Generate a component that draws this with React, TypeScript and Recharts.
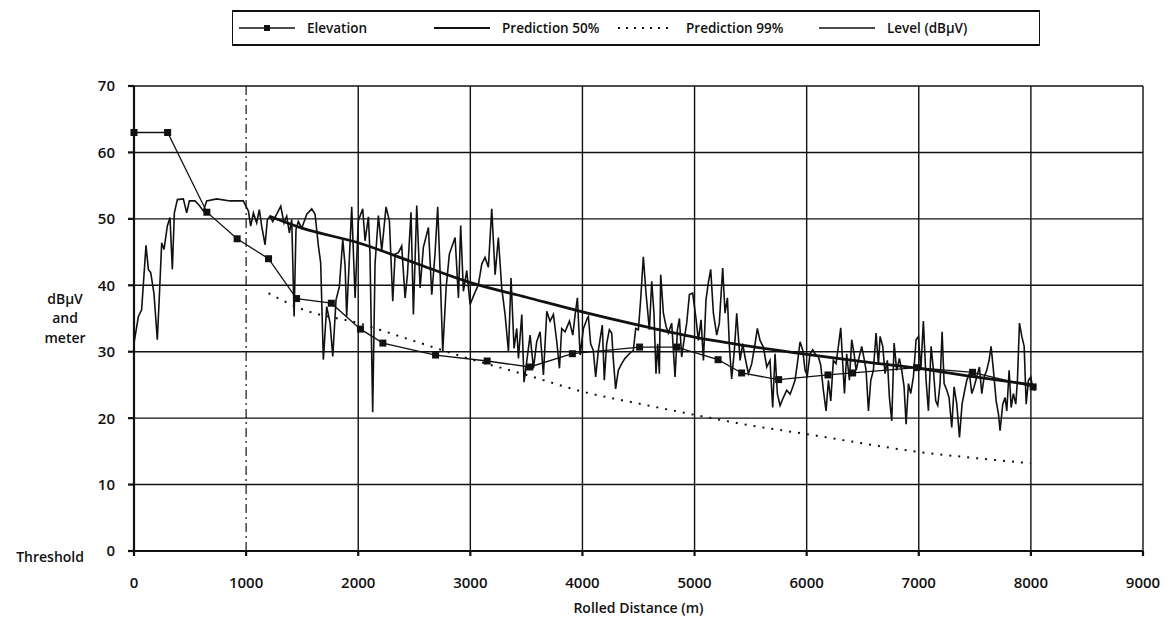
import { CartesianGrid, Legend, Line, LineChart, ReferenceLine, XAxis, YAxis, Label } from 'recharts';

const xTicks = [0, 1000, 2000, 3000, 4000, 5000, 6000, 7000, 8000, 9000];
const yTicks = [0, 10, 20, 30, 40, 50, 60, 70];

// Elevation profile (m), square markers
const elevationDist = [0, 300, 650, 920, 1200, 1450, 1760, 2020, 2220, 2690, 3150, 3530, 3910, 4510, 4840, 5210, 5420, 5750, 6190, 6410, 6980, 7480, 8020];
const elevationM = [63, 63, 51, 47, 44, 38, 37.3, 33.4, 31.3, 29.5, 28.6, 27.7, 29.7, 30.7, 30.7, 28.8, 26.8, 25.8, 26.5, 26.8, 27.6, 26.9, 24.7];

// Predicted field strength (dBuV)
const pred50Dist = [1210, 1500, 2000, 2500, 3000, 3500, 4000, 4500, 5000, 5500, 6000, 6500, 7000, 7500, 8020];
const pred50Db = [50.4, 48.6, 46.4, 43.4, 40.4, 38.2, 36.0, 34.0, 32.2, 30.8, 29.6, 28.5, 27.5, 26.2, 25.0];

const pred99Dist = [1200, 1500, 2000, 2500, 3000, 3500, 4000, 4500, 5000, 5500, 6000, 6500, 7000, 7500, 8000];
const pred99Db = [38.8, 36.4, 34.3, 31.6, 28.9, 26.5, 24.0, 22.2, 20.5, 18.9, 17.6, 16.2, 14.9, 14.0, 13.2];

// Measured level (dBuV)
const levelDist = [
  0, 39, 68, 107, 128, 149, 178, 208, 226, 247, 268, 297, 321, 342, 360, 387, 440, 470, 494, 544,
  574, 619, 648, 738, 857, 975, 1020, 1041, 1065, 1094, 1118, 1139, 1169, 1190, 1213, 1237, 1273, 1309, 1338, 1362,
  1386, 1407, 1428, 1445, 1466, 1496, 1541, 1585, 1615, 1645, 1665, 1689, 1719, 1749, 1773, 1802, 1832, 1862, 1883, 1897,
  1942, 1972, 2001, 2040, 2061, 2091, 2105, 2129, 2150, 2180, 2210, 2248, 2278, 2308, 2329, 2358, 2388, 2418, 2439, 2471,
  2492, 2522, 2552, 2581, 2626, 2656, 2685, 2709, 2730, 2754, 2784, 2813, 2864, 2894, 2914, 2938, 2968, 2998, 3033, 3072,
  3102, 3131, 3161, 3191, 3221, 3250, 3280, 3310, 3340, 3363, 3390, 3414, 3429, 3459, 3479, 3503, 3533, 3563, 3592, 3622,
  3652, 3682, 3711, 3741, 3771, 3795, 3815, 3845, 3884, 3914, 3935, 3955, 3979, 4009, 4045, 4053, 4073, 4097, 4118, 4142,
  4177, 4195, 4216, 4240, 4261, 4276, 4296, 4320, 4350, 4380, 4418, 4454, 4475, 4499, 4519, 4543, 4567, 4597, 4618, 4638,
  4656, 4671, 4686, 4698, 4722, 4746, 4766, 4796, 4826, 4847, 4865, 4885, 4906, 4930, 4954, 4983, 5013, 5034, 5058, 5079,
  5102, 5123, 5144, 5168, 5198, 5221, 5251, 5272, 5293, 5311, 5331, 5355, 5376, 5406, 5430, 5450, 5480, 5510, 5540, 5560,
  5584, 5614, 5644, 5673, 5697, 5718, 5739, 5763, 5792, 5822, 5852, 5876, 5896, 5917, 5941, 5965, 5986, 6006, 6030, 6054,
  6075, 6105, 6125, 6149, 6173, 6194, 6215, 6238, 6262, 6283, 6304, 6322, 6337, 6357, 6381, 6402, 6423, 6441, 6461, 6491,
  6512, 6530, 6551, 6572, 6595, 6619, 6640, 6655, 6679, 6699, 6720, 6738, 6759, 6780, 6803, 6827, 6848, 6869, 6887, 6908,
  6928, 6952, 6976, 6997, 7018, 7041, 7065, 7086, 7110, 7131, 7151, 7169, 7190, 7208, 7226, 7250, 7270, 7294, 7315, 7339,
  7363, 7386, 7410, 7428, 7452, 7473, 7493, 7517, 7541, 7562, 7583, 7606, 7627, 7645, 7666, 7690, 7711, 7725, 7749, 7770,
  7785, 7806, 7824, 7844, 7865, 7880, 7898, 7919, 7940, 7958, 7978, 7999, 8017, 8038,
];
const levelDb = [
  31.3, 35.3, 36.3, 46.0, 42.4, 41.9, 38.8, 31.8, 38.3, 46.4, 45.4, 48.9, 50.2, 42.4, 50.9, 52.9, 53.0, 50.9, 52.7, 52.7,
  52.2, 51.2, 52.7, 53.0, 52.7, 52.7, 51.2, 48.9, 50.9, 49.4, 51.4, 48.9, 46.1, 49.9, 50.4, 49.6, 50.7, 51.9, 49.4, 50.4,
  47.9, 49.9, 35.3, 48.4, 49.6, 48.6, 50.7, 51.5, 50.7, 45.9, 43.4, 28.8, 36.8, 34.3, 29.3, 37.8, 39.8, 46.9, 42.9, 35.3,
  51.8, 38.1, 49.7, 51.5, 46.7, 50.3, 44.7, 20.9, 43.2, 50.5, 45.2, 51.8, 49.7, 37.6, 44.7, 44.9, 45.9, 38.1, 41.6, 51.0,
  35.6, 52.0, 39.6, 45.7, 48.7, 38.6, 44.7, 51.8, 42.2, 30.0, 39.6, 44.7, 47.2, 38.1, 49.0, 39.1, 42.2, 37.1, 38.6, 40.1,
  43.2, 44.2, 42.7, 51.5, 41.6, 47.2, 39.6, 35.6, 30.0, 41.1, 30.5, 33.5, 29.0, 35.6, 25.4, 28.5, 32.5, 27.5, 31.5, 33.0,
  26.5, 36.1, 34.6, 35.6, 31.5, 27.5, 33.5, 33.0, 34.6, 32.5, 35.6, 38.1, 29.5, 33.5, 35.1, 35.3, 31.2, 30.2, 26.2, 30.2,
  34.0, 25.7, 31.2, 33.3, 32.8, 28.7, 24.4, 27.2, 28.2, 29.0, 29.7, 30.2, 33.5, 33.3, 37.8, 44.3, 38.8, 33.3, 40.6, 35.8,
  26.7, 31.2, 26.7, 41.6, 35.8, 33.8, 32.8, 34.3, 26.2, 33.3, 35.0, 29.2, 31.7, 34.3, 38.6, 38.8, 35.0, 31.7, 34.8, 28.7,
  37.8, 40.4, 42.4, 35.8, 32.5, 34.3, 42.6, 35.8, 38.1, 30.7, 25.9, 30.2, 35.8, 28.7, 31.2, 29.2, 26.7, 28.2, 31.2, 33.5,
  31.7, 30.7, 27.7, 28.7, 21.6, 29.7, 23.6, 21.9, 23.1, 24.2, 23.6, 24.7, 25.7, 28.2, 31.5, 30.2, 27.2, 26.4, 29.7, 30.3,
  29.7, 29.2, 28.0, 24.2, 21.1, 25.7, 22.6, 28.7, 28.2, 30.8, 33.6, 28.2, 23.7, 29.7, 25.7, 31.8, 29.7, 27.2, 28.7, 30.8,
  29.0, 27.2, 21.1, 25.7, 27.2, 32.8, 28.0, 32.3, 30.8, 26.7, 28.7, 23.1, 19.6, 31.3, 27.2, 29.0, 27.2, 24.7, 19.1, 25.2,
  23.7, 26.2, 31.8, 32.3, 27.2, 34.6, 25.7, 21.1, 30.8, 27.2, 22.6, 21.9, 25.2, 33.0, 25.2, 24.2, 23.1, 18.6, 24.7, 22.1,
  17.1, 22.1, 24.2, 25.7, 26.7, 23.7, 24.7, 26.2, 27.7, 23.7, 26.2, 27.2, 28.7, 30.8, 27.2, 22.6, 20.6, 18.1, 22.1, 23.1,
  21.1, 27.2, 21.6, 23.7, 22.1, 25.7, 34.3, 32.3, 30.8, 22.1, 25.7, 26.2, 24.4, 24.2,
];

const elevation = elevationDist.map((d, i) => ({ dist: d, value: elevationM[i] }));
const pred50 = pred50Dist.map((d, i) => ({ dist: d, value: pred50Db[i] }));
const pred99 = pred99Dist.map((d, i) => ({ dist: d, value: pred99Db[i] }));
const level = levelDist.map((d, i) => ({ dist: d, value: levelDb[i] }));

const FONT = '"Open Sans", sans-serif';
const INK = '#111111';

interface DotProps {
  cx?: number;
  cy?: number;
}

function SquareDot({ cx, cy }: DotProps) {
  if (cx == null || cy == null) return null;
  return <rect x={cx - 3.5} y={cy - 3.5} width={7} height={7} fill={INK} />;
}

interface TickProps {
  x?: number;
  y?: number;
  payload?: { value: number };
}

function YTick({ x = 0, y = 0, payload }: TickProps) {
  const v = payload ? payload.value : 0;
  return (
    <g>
      <text x={x} y={y} dy="0.36em" textAnchor="end" fontFamily={FONT} fontWeight={600} fontSize={15} fill={INK}>
        {v}
      </text>
      {v === 0 && (
        <text x={x - 31} y={y} dy="0.75em" textAnchor="end" fontFamily={FONT} fontWeight={600} fontSize={14} fill={INK}>
          Threshold
        </text>
      )}
    </g>
  );
}

interface LabelViewBox {
  x?: number;
  y?: number;
  width?: number;
  height?: number;
}

function YTitle({ viewBox }: { viewBox?: LabelViewBox }) {
  const vb = viewBox || {};
  const cx = (vb.x || 0) + 65;
  const cy = (vb.y || 0) + (vb.height || 0) / 2;
  return (
    <text x={cx} y={cy} textAnchor="middle" fontFamily={FONT} fontWeight={600} fontSize={14} fill={INK}>
      <tspan x={cx} dy="-1.05em">dBμV</tspan>
      <tspan x={cx} dy="1.4em">and</tspan>
      <tspan x={cx} dy="1.4em">meter</tspan>
    </text>
  );
}

const legendItems = [
  { label: 'Elevation', kind: 'elev', width: 195 },
  { label: 'Prediction 50%', kind: 'p50', width: 184 },
  { label: 'Prediction 99%', kind: 'p99', width: 201 },
  { label: 'Level (dBμV)', kind: 'level', width: 200 },
];

function Swatch({ kind }: { kind: string }) {
  return (
    <svg width={56} height={10} style={{ display: 'block' }}>
      {kind === 'elev' && (
        <>
          <line x1={0} x2={56} y1={5} y2={5} stroke={INK} strokeWidth={1.4} />
          <rect x={25} y={2} width={6} height={6} fill={INK} />
        </>
      )}
      {kind === 'p50' && <line x1={0} x2={56} y1={5} y2={5} stroke={INK} strokeWidth={2} />}
      {kind === 'p99' && <line x1={0} x2={56} y1={5} y2={5} stroke={INK} strokeWidth={1.8} strokeDasharray="2 6" />}
      {kind === 'level' && <line x1={0} x2={56} y1={5} y2={5} stroke={INK} strokeWidth={1.6} />}
    </svg>
  );
}

function ChartLegend() {
  return (
    <div
      style={{
        width: 808,
        height: 36,
        borderTop: `2px solid ${INK}`,
        borderBottom: `2px solid ${INK}`,
        borderLeft: `1.5px solid ${INK}`,
        borderRight: `1.5px solid ${INK}`,
        boxSizing: 'border-box',
        display: 'flex',
        alignItems: 'center',
        paddingLeft: 6,
        fontFamily: FONT,
        fontWeight: 600,
        fontSize: 13.5,
        color: INK,
        background: '#fff',
      }}
    >
      {legendItems.map((item) => (
        <div key={item.label} style={{ width: item.width, display: 'flex', alignItems: 'center', gap: 12 }}>
          <Swatch kind={item.kind} />
          <span>{item.label}</span>
        </div>
      ))}
    </div>
  );
}

export default function App() {
  return (
    <div style={{ position: 'absolute', left: 0, top: 0, width: 1171, height: 625, background: '#fff' }}>
      <LineChart width={1171} height={625} margin={{ top: 86, right: 28, left: 0, bottom: 8 }}>
        <CartesianGrid vertical={false} stroke={INK} strokeWidth={1.4} />
        {xTicks
          .filter((t) => t > 0)
          .map((t) => (
            <ReferenceLine
              key={t}
              x={t}
              stroke={INK}
              strokeWidth={t === 1000 ? 1.2 : 1.4}
              strokeDasharray={t === 1000 ? '9 4 2 4' : undefined}
            />
          ))}
        <XAxis
          dataKey="dist"
          type="number"
          domain={[0, 9000]}
          ticks={xTicks}
          allowDuplicatedCategory={false}
          height={66}
          stroke={INK}
          strokeWidth={2.2}
          tickSize={5}
          tickMargin={21}
          tick={{ fontFamily: FONT, fontWeight: 600, fontSize: 15, fill: INK }}
        >
          <Label
            value="Rolled Distance (m)"
            position="insideBottom"
            offset={4}
            style={{ fontFamily: FONT, fontWeight: 600, fontSize: 14, fill: INK }}
          />
        </XAxis>
        <YAxis
          type="number"
          domain={[0, 70]}
          ticks={yTicks}
          width={134}
          stroke={INK}
          strokeWidth={2.2}
          tickSize={6}
          tickMargin={13}
          tick={<YTick />}
        >
          <Label content={<YTitle />} />
        </YAxis>
        <Legend
          layout="vertical"
          align="center"
          verticalAlign="middle"
          content={<ChartLegend />}
          wrapperStyle={{ top: 10, left: 232, width: 808, height: 36 }}
        />
        <Line
          data={pred99}
          dataKey="value"
          name="Prediction 99%"
          type="monotone"
          stroke={INK}
          strokeWidth={2}
          strokeDasharray="2 7"
          dot={false}
          isAnimationActive={false}
        />
        <Line
          data={level}
          dataKey="value"
          name="Level (dBμV)"
          type="linear"
          stroke={INK}
          strokeWidth={1.6}
          dot={false}
          isAnimationActive={false}
        />
        <Line
          data={elevation}
          dataKey="value"
          name="Elevation"
          type="linear"
          stroke={INK}
          strokeWidth={1.3}
          dot={<SquareDot />}
          isAnimationActive={false}
        />
        <Line
          data={pred50}
          dataKey="value"
          name="Prediction 50%"
          type="monotone"
          stroke={INK}
          strokeWidth={2.8}
          dot={false}
          isAnimationActive={false}
        />
      </LineChart>
    </div>
  );
}
